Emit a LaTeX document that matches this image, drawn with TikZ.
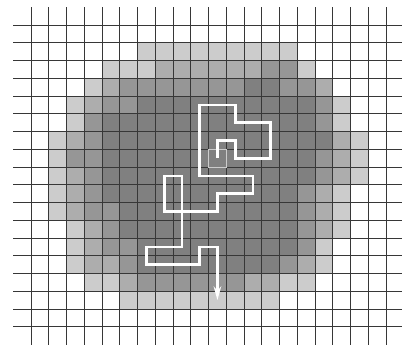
\documentclass[tikz,border=0pt]{standalone}
\usepackage{tikz}
\usetikzlibrary{arrows.meta}
\usepackage{xcolor}
\definecolor{gridline}{RGB}{55,55,55}
\definecolor{lv1}{gray}{0.80}
\definecolor{lv2}{gray}{0.68}
\definecolor{lv3}{gray}{0.59}
\definecolor{lv4}{gray}{0.50}

\begin{document}
\begin{tikzpicture}[x=0.5cm,y=0.5cm,
  gridrule/.style={draw=gridline,line width=0.8pt},
  walk/.style={draw=white,line width=2.2pt,line join=miter},
  startcell/.style={draw=gray!40,line width=0.7pt}]
\useasboundingbox (-1.75,-18.25) rectangle (20.9,1.41);
\clip (-1.75,-18.25) rectangle (20.9,1.41);
\foreach \r/\a/\b/\s in {1/6/14/1,
  2/4/6/1, 2/7/12/2, 2/13/14/3, 2/15/15/1,
  3/3/3/1, 3/4/4/2, 3/5/11/3, 3/12/13/4, 3/14/15/3, 3/16/16/2,
  4/2/2/1, 4/3/3/2, 4/4/5/3, 4/6/15/4, 4/16/16/3, 4/17/17/1,
  5/2/2/1, 5/3/3/3, 5/4/15/4, 5/16/16/3, 5/17/17/1,
  6/1/1/1, 6/2/2/2, 6/3/3/3, 6/4/16/4, 6/17/17/2, 6/18/18/1,
  7/1/1/1, 7/2/3/3, 7/4/15/4, 7/16/16/3, 7/17/17/2, 7/18/18/1,
  8/1/1/1, 8/2/2/2, 8/3/3/3, 8/4/15/4, 8/16/16/3, 8/17/17/2, 8/18/18/1,
  9/1/1/1, 9/2/2/2, 9/3/3/3, 9/4/14/4, 9/15/15/3, 9/16/16/2, 9/17/17/1,
  10/1/1/1, 10/2/2/2, 10/3/4/3, 10/5/14/4, 10/15/15/3, 10/16/16/2, 10/17/17/1,
  11/2/2/1, 11/3/3/2, 11/4/4/3, 11/5/14/4, 11/15/15/3, 11/16/16/2, 11/17/17/1,
  12/2/2/1, 12/3/3/2, 12/4/5/3, 12/6/14/4, 12/15/15/3, 12/16/16/1,
  13/2/2/1, 13/3/4/2, 13/5/5/3, 13/6/13/4, 13/14/14/3, 13/15/15/2, 13/16/16/1,
  14/3/4/1, 14/5/5/2, 14/6/11/3, 14/12/13/2, 14/14/15/1,
  15/5/13/1}
  \fill[lv\s] (\a,-\r) rectangle (\b+1,-\r-1);
\foreach \j in {0,...,17}
  \draw[gridrule] (-1,-\j) -- (21,-\j);
\foreach \i in {0,...,20}
  \draw[gridrule] (\i,1) -- (\i,-18);
\draw[startcell] (10,-8) rectangle (11,-7);
\coordinate (start) at (10.5,-7.5);
\coordinate (stop) at (10.5,-15.5);
\draw[walk,-{Stealth[length=11pt,width=6pt]}] (start)
  -- (10.5,-6.5) -- (11.5,-6.5) -- (11.5,-7.5) -- (13.5,-7.5)
  -- (13.5,-5.5) -- (11.5,-5.5) -- (11.5,-4.5) -- (9.5,-4.5)
  -- (9.5,-8.5) -- (12.5,-8.5) -- (12.5,-9.5) -- (10.5,-9.5)
  -- (10.5,-10.5) -- (7.5,-10.5) -- (7.5,-8.5) -- (8.5,-8.5)
  -- (8.5,-12.5) -- (6.5,-12.5) -- (6.5,-13.5) -- (9.5,-13.5)
  -- (9.5,-12.5) -- (10.5,-12.5) -- (stop);
\end{tikzpicture}
\end{document}
